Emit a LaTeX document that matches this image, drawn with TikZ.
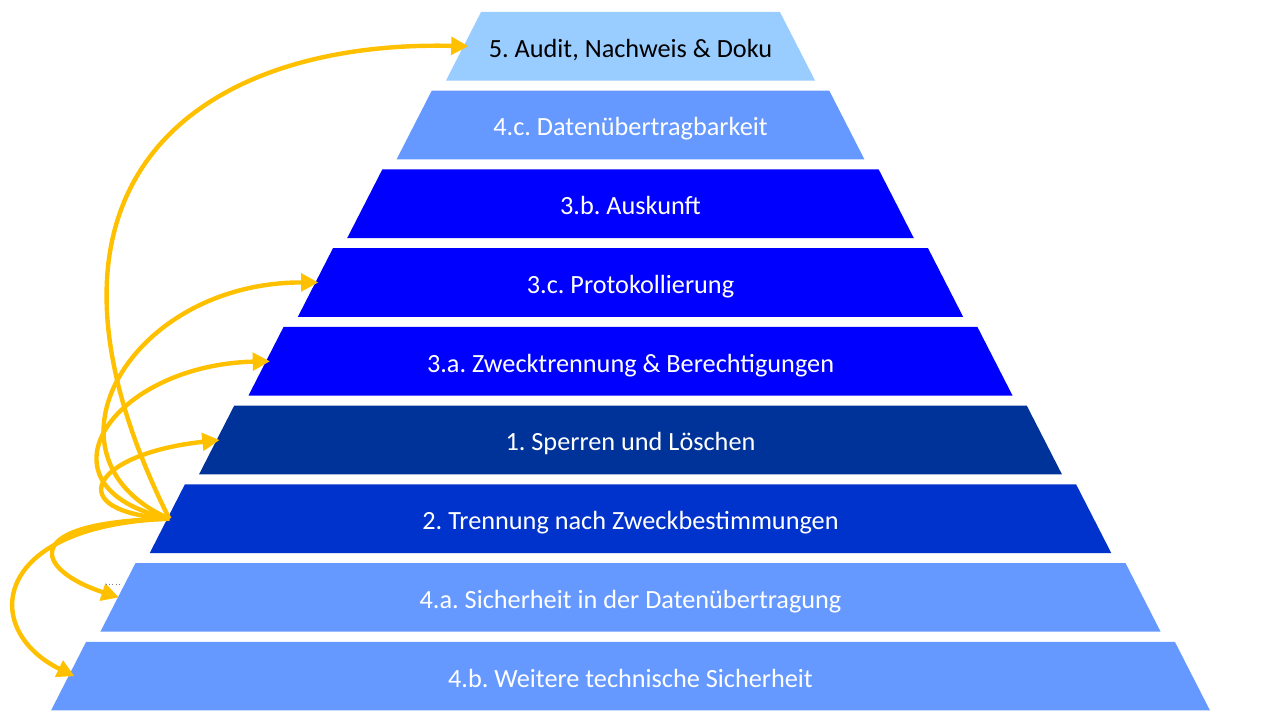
\documentclass[tikz,border=0pt]{standalone}
\usepackage{fontspec}
\setmainfont{Carlito}
\usepackage{tikz}
\usetikzlibrary{calc, arrows.meta, shapes.geometric, positioning}
\definecolor{lightsky}{HTML}{99CCFF}
\definecolor{paleblue}{HTML}{6699FF}
\definecolor{pureblue}{HTML}{0000FF}
\definecolor{navyblue}{HTML}{003399}
\definecolor{royalblue}{HTML}{0033CC}
\definecolor{arrowcol}{HTML}{FFC000}
\newcommand{\layerfont}{\fontsize{19.7}{24}\selectfont}
\frenchspacing
\tikzset{
    layernode/.style = {trapezium, trapezium angle=62.9, trapezium stretches body,
      inner sep=0em, outer sep=0pt, text height=33.9pt, text depth=17.5pt,
      text=white, node distance=0em, font=\layerfont},
    connect/.style = {draw=arrowcol, line width=3.3pt, -{Triangle[length=13pt, width=13pt]}}
}

\begin{document}
\begin{tikzpicture}[x=0.75pt, y=-0.75pt]
\useasboundingbox (0,0) rectangle (1280,720);

\node [layernode, name=l1, fill=lightsky, text=black, minimum width=276.75pt] at (630.5,46.25) {5. Audit, Nachweis \& Doku};
\node [layernode, name=l2, below of = l1, yshift=-59.06pt, fill=paleblue, minimum width=350.8pt] {4.c. Datenübertragbarkeit};
\node [layernode, name=l3, below of = l2, yshift=-59.06pt, fill=pureblue, minimum width=424.9pt] {3.b. Auskunft};
\node [layernode, name=l4, below of = l3, yshift=-59.06pt, fill=pureblue, minimum width=498.9pt] {3.c. Protokollierung};
\node [layernode, name=l5, below of = l4, yshift=-59.06pt, fill=pureblue, minimum width=573pt] {3.a. Zwecktrennung \& Berechtigungen};
\node [layernode, name=l6, below of = l5, yshift=-59.06pt, fill=navyblue, minimum width=647.1pt] {1. Sperren und Löschen};
\node [layernode, name=l7, below of = l6, yshift=-59.06pt, fill=royalblue, minimum width=721.1pt] {2. Trennung nach Zweckbestimmungen};
\node [layernode, name=l8, below of = l7, yshift=-59.06pt, fill=paleblue, minimum width=795.2pt] {4.a. Sicherheit in der Datenübertragung};
\node [layernode, name=l9, below of = l8, yshift=-59.06pt, fill=paleblue, minimum width=869.25pt] {4.b. Weitere technische Sicherheit};

% arrows start at layer 2
\coordinate (src) at ($(l7.left side)+(2,0)$);
\draw [connect] (src) .. controls (0,180) and (200,40) .. ($(l1.left side)+(5,0)$);
\draw [connect] (src) .. controls (30,457) and (130,282) .. ($(l4.left side)+(3,0)$);
\draw [connect] (src) .. controls (28,487) and (112,365) .. ($(l5.left side)+(4,0)$);
\draw [connect] (src) .. controls (60,512) and (90,454) .. ($(l6.left side)+(3,0)$);
\draw [connect] (src) .. controls (15,522) and (35,570) .. ($(l8.left side)+(1,0)$);
\draw [connect] (src) .. controls (-10,525) and (-20,630) .. ($(l9.left side)+(6,0)$);

\draw [dotted, gray, thin] (106,584) -- (121,584);
\end{tikzpicture}
\end{document}
